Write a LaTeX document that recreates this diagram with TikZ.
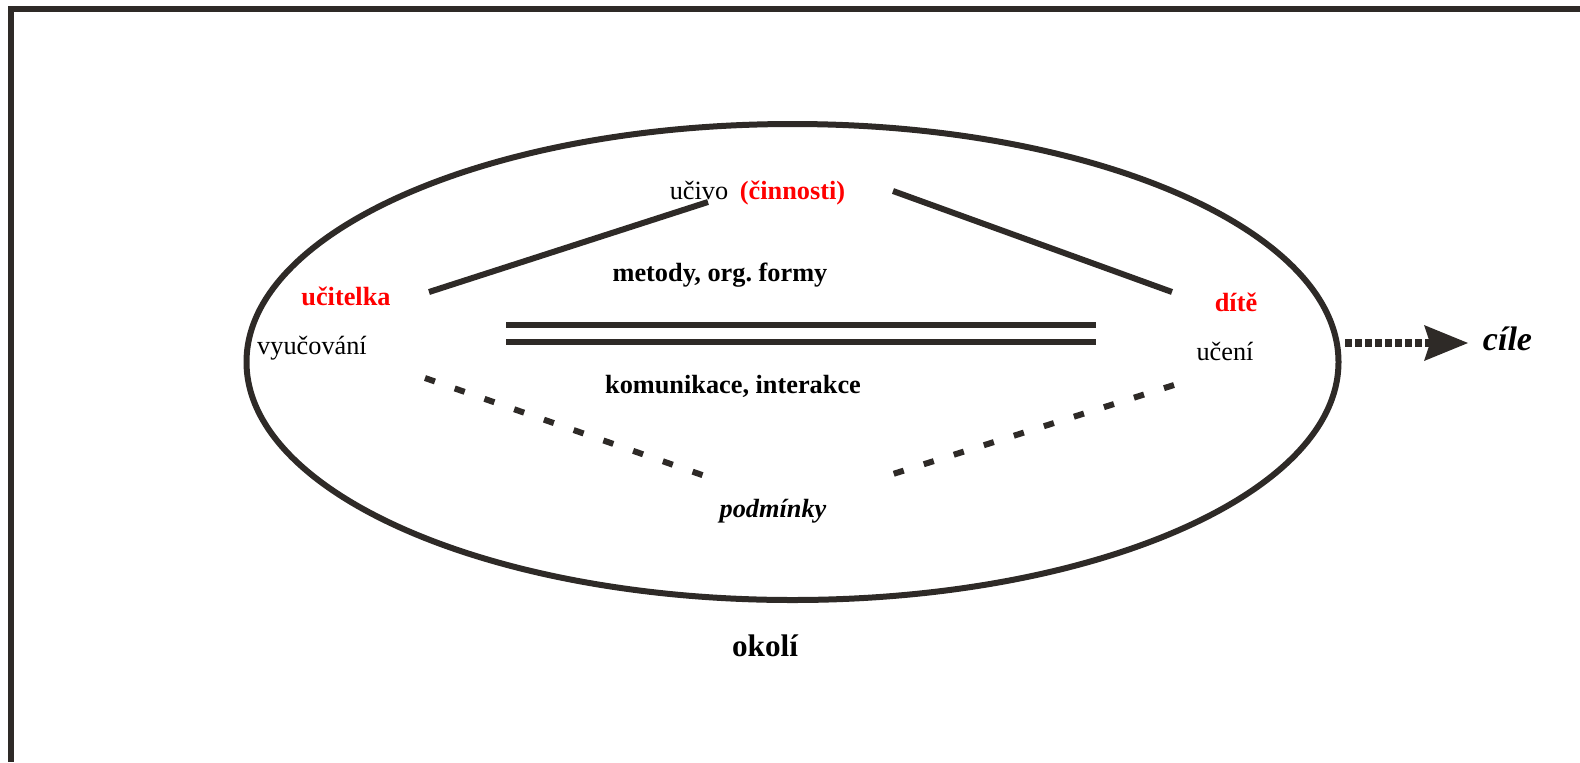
\documentclass[tikz,border=0pt]{standalone}
\usepackage{fontspec}
\setmainfont{Liberation Serif}
\usepackage{xcolor}
\usepackage{tikz}
\usepackage{tkz-euclide}
\usetikzlibrary{arrows.meta}

\definecolor{ink}{HTML}{2E2A27}
\tikzset{
	tie/.style={ink,line width=3pt,line cap=butt},
	weak/.style={ink,line width=3pt,line cap=butt,dash pattern=on 5.25pt off 10.5pt},
	goal/.style={ink,line width=4pt,line cap=butt,dash pattern=on 3.3pt off 1.7pt,
		-{Stealth[length=22pt,width=18pt,inset=3pt,line width=0pt]}},
	txt/.style={anchor=base,inner sep=0pt,font=\fontsize{13.15}{15}\selectfont},
	key/.style={txt,font=\fontsize{13.15}{15}\selectfont\bfseries},
	hot/.style={key,red},
}

\begin{document}
\begin{tikzpicture}[x=0.5pt,y=-0.5pt]
			\useasboundingbox (0,0) rectangle (1580,762);
			\tkzDefPoint(1580,9){F1}
			\tkzDefPoint(11,9){F2}
			\tkzDefPoint(11,762){F3}
			\tkzDefPoint(792.5,362){O}
			\tkzDefPoint(429,292){T1}
			\tkzDefPoint(708,202){T2}
			\tkzDefPoint(893,191){T3}
			\tkzDefPoint(1172,292){T4}
			\tkzDefPoint(506,324.5){M1}
			\tkzDefPoint(1096,324.5){M2}
			\tkzDefPoint(506,341.5){M3}
			\tkzDefPoint(1096,341.5){M4}
			\tkzDefPoint(425,378){K1}
			\tkzDefPoint(705,476){K2}
			\tkzDefPoint(1174,385){K3}
			\tkzDefPoint(893,474){K4}
			\tkzDefPoint(1345,343){A1}
			\tkzDefPoint(1468,343){A2}
			\draw[tie] (F1) -- (F2) -- (F3);
			\draw[tie] (O) ellipse [x radius=546,y radius=238];
			\tkzDrawSegment[tie](T1,T2)
			\tkzDrawSegment[tie](T3,T4)
			\tkzDrawSegment[tie](M1,M2)
			\tkzDrawSegment[tie](M3,M4)
			\tkzDrawSegment[weak](K1,K2)
			\tkzDrawSegment[weak](K3,K4)
			\draw[goal] (A1) -- (A2);
			\node[txt] (ucivo) at (699,199) {učivo};
			\node[hot] (cinnosti) at (792.5,199) {(činnosti)};
			\node[key] (metody) at (720,281) {metody, org.\ formy};
			\node[hot] (ucitelka) at (346,305) {učitelka};
			\node[txt] (vyucovani) at (312,354) {vyučování};
			\node[hot] (dite) at (1236,311) {dítě};
			\node[txt] (uceni) at (1225,360) {učení};
			\node[key] (komunikace) at (733,393) {komunikace, interakce};
			\node[key,font=\fontsize{13.15}{15}\selectfont\bfseries\itshape] (podminky) at (773,517) {podmínky};
			\node[key,font=\fontsize{15.6}{18}\selectfont\bfseries] (okoli) at (765,656) {okolí};
			\node[key,font=\fontsize{17}{20}\selectfont\bfseries\itshape] (cile) at (1507.5,350) {cíle};
		\end{tikzpicture}
\end{document}
